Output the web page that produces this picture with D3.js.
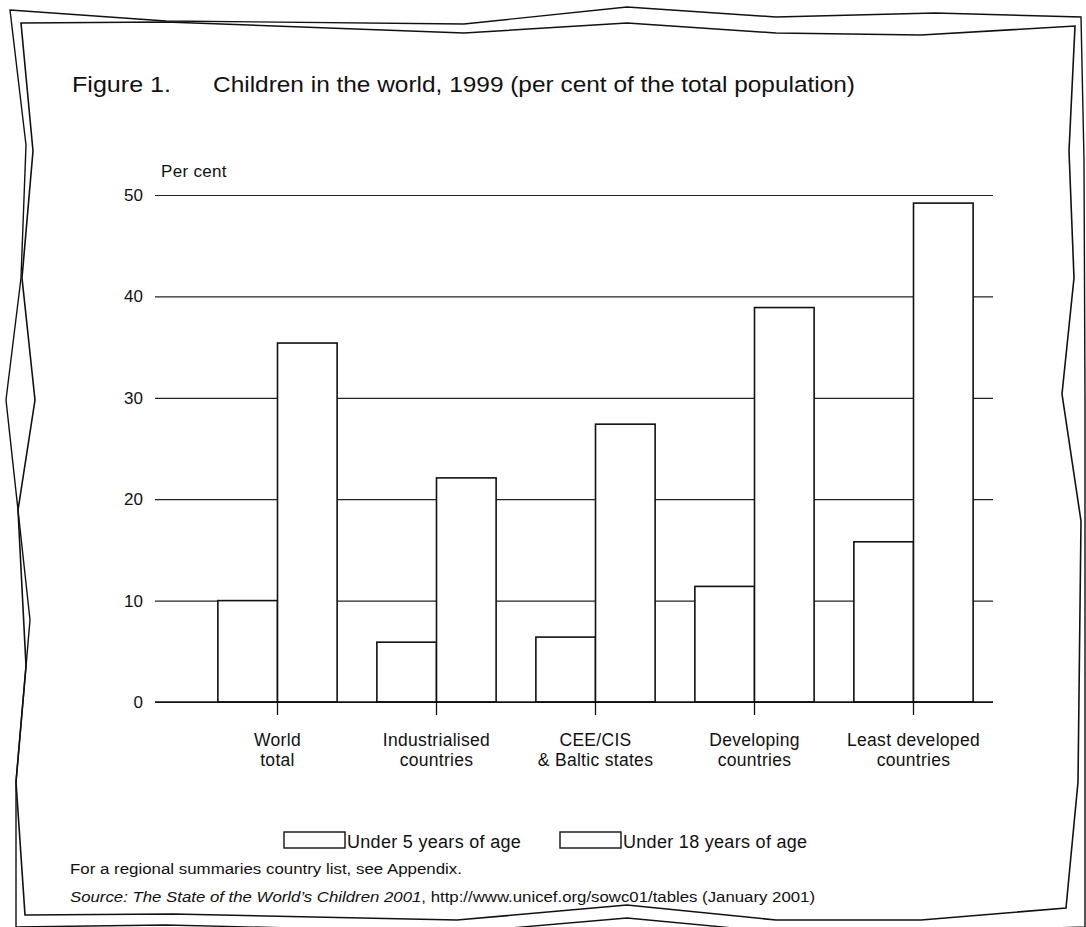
<!DOCTYPE html>
<html>
<head>
<meta charset="utf-8">
<script src="https://cdn.jsdelivr.net/npm/d3@7"></script>
<style>
  html, body { margin: 0; padding: 0; background: #fff; }
  svg { display: block; }
  text { font-family: "Liberation Sans", Arial, Helvetica, sans-serif; fill: #111; }
</style>
</head>
<body>
<svg id="chart" width="1086" height="927"></svg>
<script>
// ---------- data ----------
const categories = ["World total", "Industrialised countries", "CEE/CIS & Baltic states", "Developing countries", "Least developed countries"];
const categoryLines = [["World", "total"], ["Industrialised", "countries"], ["CEE/CIS", "& Baltic states"], ["Developing", "countries"], ["Least developed", "countries"]];
const under5 = [10.0, 5.9, 6.4, 11.4, 15.8];
const under18 = [35.4, 22.1, 27.4, 38.9, 49.2];
const seriesNames = ["Under 5 years of age", "Under 18 years of age"];
const yTicks = [0, 10, 20, 30, 40, 50];
const titleNumber = "Figure 1.";
const titleText = "Children in the world, 1999 (per cent of the total population)";
const yLabel = "Per cent";
const note = "For a regional summaries country list, see Appendix.";
const sourceItalic = "Source: The State of the World\u2019s Children 2001";
const sourceRest = ", http://www.unicef.org/sowc01/tables (January 2001)";

// decorative torn-paper frame (styling only)
const frameOuter = [[10,10],[166,21],[464,24],[627,7],[776,17],[935,13],[1081,17],[1084,160],[1085,400],[1085,927],
  [921,932],[776,932],[627,918],[464,932],[166,925],[16,927],[16,782],[30,620],[18,510],[6,400],[21,278],[26,145]];
const frameInner = [[21,23],[166,22],[464,33],[627,23],[776,33],[921,35],[1075,26],[1069,151],[1074,278],[1062,394],
  [1081,521],[1078,782],[1066,908],[921,920],[776,920],[627,905],[457,920],[173,914],[25,915],[16,782],[26,666],
  [18,510],[35,400],[22,278],[33,151]];

// ---------- drawing ----------
const svg = d3.select("#chart");

const x = d3.scaleBand().domain(categories).range([198, 993]).paddingInner(0.25).paddingOuter(0.125);
const y = d3.scaleLinear().domain([0, 50]).range([702, 195]);
const gridX0 = 155, gridX1 = 993;

// frame
const line = d3.line().curve(d3.curveLinearClosed);
svg.append("path").attr("d", line(frameOuter)).attr("fill", "none").attr("stroke", "#111").attr("stroke-width", 1.4);
svg.append("path").attr("d", line(frameInner)).attr("fill", "none").attr("stroke", "#111").attr("stroke-width", 1.6);

// title
svg.append("text").attr("x", 72).attr("y", 92).attr("font-size", 22.5)
  .attr("textLength", 99).attr("lengthAdjust", "spacingAndGlyphs").text(titleNumber);
svg.append("text").attr("x", 213).attr("y", 92).attr("font-size", 22)
  .attr("textLength", 642).attr("lengthAdjust", "spacingAndGlyphs").text(titleText);

// y label
svg.append("text").attr("x", 161).attr("y", 177).attr("font-size", 17).attr("letter-spacing", 0.3).text(yLabel);

// gridlines + y tick labels via axis
const yAxis = d3.axisLeft(y).tickValues(yTicks).tickSize(-(gridX1 - gridX0)).tickPadding(12).tickFormat(d3.format("d"));
const gy = svg.append("g").attr("transform", `translate(${gridX0},0)`).call(yAxis);
gy.select(".domain").remove();
gy.selectAll(".tick line").attr("stroke", "#222").attr("stroke-width", 1.2);
gy.selectAll(".tick text").attr("font-size", 17).attr("fill", "#111")
  .style("font-family", "'Liberation Sans', Arial, Helvetica, sans-serif");

// bars
const half = x.bandwidth() / 2;
const g = svg.append("g");
g.selectAll("rect.u5").data(categories).join("rect").attr("class", "u5")
  .attr("x", d => x(d)).attr("width", half)
  .attr("y", (d, i) => y(under5[i])).attr("height", (d, i) => y(0) - y(under5[i]))
  .attr("fill", "#fff").attr("stroke", "#111").attr("stroke-width", 1.6);
g.selectAll("rect.u18").data(categories).join("rect").attr("class", "u18")
  .attr("x", d => x(d) + half).attr("width", half)
  .attr("y", (d, i) => y(under18[i])).attr("height", (d, i) => y(0) - y(under18[i]))
  .attr("fill", "#fff").attr("stroke", "#111").attr("stroke-width", 1.6);

// zero line redraw
svg.append("line").attr("x1", gridX0).attr("x2", gridX1).attr("y1", y(0)).attr("y2", y(0)).attr("stroke", "#111").attr("stroke-width", 1.4);

// x axis ticks and labels
const xAxis = d3.axisBottom(x).tickSize(13).tickFormat("");
const gx = svg.append("g").attr("transform", `translate(0,${y(0)})`).call(xAxis);
gx.select(".domain").remove();
gx.selectAll(".tick line").attr("stroke", "#111").attr("stroke-width", 1.3);

categories.forEach((c, i) => {
  const cx = x(c) + x.bandwidth() / 2;
  const t = svg.append("text").attr("text-anchor", "middle").attr("font-size", 17.5).attr("letter-spacing", 0.3)
    .attr("x", cx).attr("y", 746);
  categoryLines[i].forEach((ln, j) => {
    t.append("tspan").attr("x", cx).attr("dy", j === 0 ? 0 : 20).text(ln);
  });
});

// legend
const legendBoxes = [284, 560];
seriesNames.forEach((s, i) => {
  svg.append("rect").attr("x", legendBoxes[i]).attr("y", 832).attr("width", 61).attr("height", 16)
    .attr("fill", "#fff").attr("stroke", "#111").attr("stroke-width", 1.4);
  svg.append("text").attr("x", legendBoxes[i] + 63).attr("y", 848).attr("font-size", 18).attr("letter-spacing", 0.3).text(s);
});

// footnotes
svg.append("text").attr("x", 70).attr("y", 874).attr("font-size", 15.5)
  .attr("textLength", 392).attr("lengthAdjust", "spacingAndGlyphs").text(note);
const src = svg.append("text").attr("x", 70).attr("y", 902).attr("font-size", 15.5)
  .attr("textLength", 745).attr("lengthAdjust", "spacingAndGlyphs");
src.append("tspan").attr("font-style", "italic").text(sourceItalic);
src.append("tspan").text(sourceRest);
</script>
</body>
</html>
